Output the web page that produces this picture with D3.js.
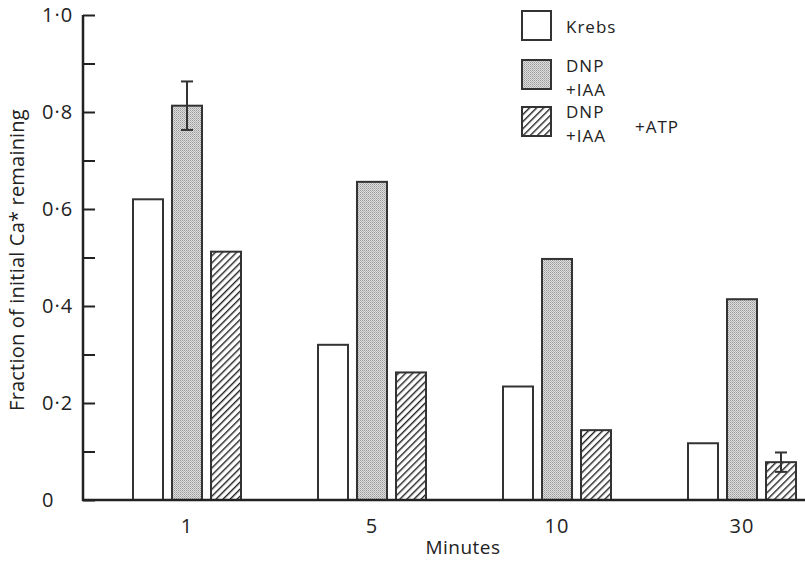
<!DOCTYPE html>
<html>
<head>
<meta charset="utf-8">
<script src="https://cdn.jsdelivr.net/npm/d3@7"></script>
<style>
  body { margin: 0; background: #fff; }
  text { font-family: "Open Sans", "Lato", sans-serif; fill: #222; }
</style>
</head>
<body>
<div id="chart"></div>
<script>
// Data
var minutes = ["1", "5", "10", "30"];
var seriesNames = ["Krebs", "DNP+IAA", "DNP+IAA+ATP"];
var krebs = [0.62, 0.32, 0.234, 0.117];
var dnpIaa = [0.813, 0.656, 0.497, 0.414];
var dnpIaaAtp = [0.512, 0.263, 0.144, 0.078];
// error bars (half-length), null where none drawn
var dnpIaaErr = [0.05, null, null, null];
var dnpIaaAtpErr = [null, null, null, 0.02];
var yTicks = [0, 0.1, 0.2, 0.3, 0.4, 0.5, 0.6, 0.7, 0.8, 0.9, 1.0];

var svgWidth = 805, svgHeight = 562;
var svg = d3.select("#chart").append("svg")
    .attr("width", svgWidth)
    .attr("height", svgHeight);

// Patterns for the fills
var defs = svg.append("defs");
var stip = defs.append("pattern")
    .attr("id", "stipple")
    .attr("width", 2).attr("height", 2)
    .attr("patternUnits", "userSpaceOnUse");
stip.append("rect").attr("width", 2).attr("height", 2).attr("fill", "#dedede");
stip.append("rect").attr("width", 1).attr("height", 1).attr("fill", "#9a9a9a");
stip.append("rect").attr("x", 1).attr("y", 1).attr("width", 1).attr("height", 1).attr("fill", "#b4b4b4");

var hatch = defs.append("pattern")
    .attr("id", "hatch")
    .attr("width", 5).attr("height", 5)
    .attr("patternUnits", "userSpaceOnUse")
    .attr("patternTransform", "rotate(45)");
hatch.append("rect").attr("width", 5).attr("height", 5).attr("fill", "#fff");
hatch.append("line")
    .attr("x1", 0).attr("y1", 0).attr("x2", 0).attr("y2", 5)
    .attr("stroke", "#222").attr("stroke-width", 2.8);

var fills = ["#fff", "url(#stipple)", "url(#hatch)"];

// Scales
var axisX = 83, axisY = 500;
var y = d3.scaleLinear().domain([0, 1]).range([axisY, 15]);
var x = d3.scalePoint().domain(minutes).range([187, 742]);
var barW = 30, barStep = 39;

// Y axis: inward ticks, labels left aligned
var yAxis = svg.append("g")
    .attr("transform", "translate(" + axisX + ",0)")
    .call(d3.axisLeft(y).tickValues(yTicks).tickSize(-12)
        .tickFormat(function (d) {
            var r = Math.round(d * 10);
            if (r % 2 !== 0) return "";
            if (r === 0) return "0";
            return (d.toFixed(1)).replace(".", "\u00b7");
        }));
yAxis.select(".domain").remove();
yAxis.selectAll(".tick line").attr("stroke", "#222").attr("stroke-width", 2);
yAxis.selectAll(".tick text")
    .attr("x", -41)
    .attr("text-anchor", "start")
    .style("font-size", "20px")
    .style("letter-spacing", "1px");

svg.append("line")
    .attr("x1", axisX).attr("x2", axisX)
    .attr("y1", y(1)).attr("y2", axisY + 1)
    .attr("stroke", "#222").attr("stroke-width", 2.5);

// Bars
var seriesData = [krebs, dnpIaa, dnpIaaAtp];
seriesData.forEach(function (vals, s) {
    svg.selectAll(".bar" + s)
        .data(vals)
        .enter()
        .append("rect")
        .attr("x", function (d, i) { return x(minutes[i]) + (s - 1) * barStep - barW / 2; })
        .attr("y", function (d) { return y(d); })
        .attr("width", barW)
        .attr("height", function (d) { return axisY - y(d); })
        .attr("fill", fills[s])
        .attr("stroke", "#333")
        .attr("stroke-width", 2);
});

// Error bars
[[dnpIaa, dnpIaaErr, 1], [dnpIaaAtp, dnpIaaAtpErr, 2]].forEach(function (e) {
    var vals = e[0], errs = e[1], s = e[2];
    errs.forEach(function (err, i) {
        if (err === null) return;
        var cx = x(minutes[i]) + (s - 1) * barStep;
        var g = svg.append("g").attr("stroke", "#333").attr("stroke-width", 2);
        g.append("line").attr("x1", cx).attr("x2", cx)
            .attr("y1", y(vals[i] + err)).attr("y2", y(vals[i] - err));
        g.append("line").attr("x1", cx - 6).attr("x2", cx + 6)
            .attr("y1", y(vals[i] + err)).attr("y2", y(vals[i] + err));
        g.append("line").attr("x1", cx - 6).attr("x2", cx + 6)
            .attr("y1", y(vals[i] - err)).attr("y2", y(vals[i] - err));
    });
});

// X axis line and labels
svg.append("line")
    .attr("x1", axisX - 1).attr("x2", svgWidth)
    .attr("y1", axisY).attr("y2", axisY)
    .attr("stroke", "#222").attr("stroke-width", 2.5);

svg.selectAll(".xlab")
    .data(minutes)
    .enter()
    .append("text")
    .attr("x", function (d) { return x(d); })
    .attr("y", 533)
    .attr("text-anchor", "middle")
    .style("font-size", "20px")
    .style("letter-spacing", "1px")
    .text(function (d) { return d; });

// Axis titles
svg.append("text")
    .attr("x", 463).attr("y", 554)
    .attr("text-anchor", "middle")
    .style("font-size", "19px")
    .style("letter-spacing", "0.5px")
    .text("Minutes");

svg.append("text")
    .attr("transform", "translate(24,260) rotate(-90)")
    .attr("text-anchor", "middle")
    .style("font-size", "20px")
    .style("letter-spacing", "0.2px")
    .text("Fraction of initial Ca* remaining");

// Legend
var legendTop = [11, 60, 107];
var legend = svg.append("g");
legend.selectAll("rect")
    .data(seriesNames)
    .enter()
    .append("rect")
    .attr("x", 522)
    .attr("y", function (d, i) { return legendTop[i]; })
    .attr("width", 29).attr("height", 29)
    .attr("fill", function (d, i) { return fills[i]; })
    .attr("stroke", "#333")
    .attr("stroke-width", 2);

var lt = legend.append("g")
    .style("font-size", "17px")
    .style("letter-spacing", "1px");
lt.append("text").attr("x", 566).attr("y", 33).text("Krebs");
lt.append("text").attr("x", 566).attr("y", 72).text("DNP");
lt.append("text").attr("x", 566).attr("y", 96).text("+IAA");
lt.append("text").attr("x", 566).attr("y", 118).text("DNP");
lt.append("text").attr("x", 566).attr("y", 142).text("+IAA");
lt.append("text").attr("x", 635).attr("y", 133).text("+ATP");
</script>
</body>
</html>
